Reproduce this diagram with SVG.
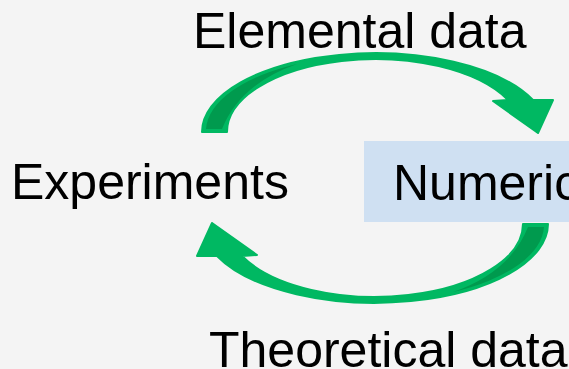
<svg xmlns="http://www.w3.org/2000/svg" xmlns:xlink="http://www.w3.org/1999/xlink" width="569" height="369" viewBox="0 0 569 369">
<style>
.lbl{font-family:"Liberation Sans",Arial,sans-serif;font-size:50px;fill:#000;}
.arr{fill:#00b862;stroke:#00b862;stroke-width:2;stroke-linejoin:round;}
.shade{fill:#009a4e;}
</style>
<defs>
<g id="curvedArrow">
<path class="arr" d="M202,132 A173,79 0 0 1 533,100 L553,100 L538,133 L493,101 L508,100 A148,73 0 0 0 227,132 Z"/>
<path class="shade" d="M206,129 A170,76 0 0 1 297,64 Q240,84 222,129 Z"/>
</g>
</defs>
<rect x="0" y="0" width="569" height="369" fill="#f4f4f4"/>
<g id="experiments">
<text class="lbl" x="11" y="199">Experiments</text>
</g>
<g id="numerical">
<rect x="364" y="141" width="210" height="81" fill="#cfe0f2"/>
<text class="lbl" x="393" y="200">Numeric</text>
</g>
<g id="connectors">
<g id="elemental-arrow">
<use xlink:href="#curvedArrow"/>
<text class="lbl" x="193" y="48">Elemental data</text>
</g>
<g id="theoretical-arrow">
<use xlink:href="#curvedArrow" transform="rotate(180 375 178)"/>
<text class="lbl" x="209" y="367">Theoretical data</text>
</g>
</g>
</svg>
